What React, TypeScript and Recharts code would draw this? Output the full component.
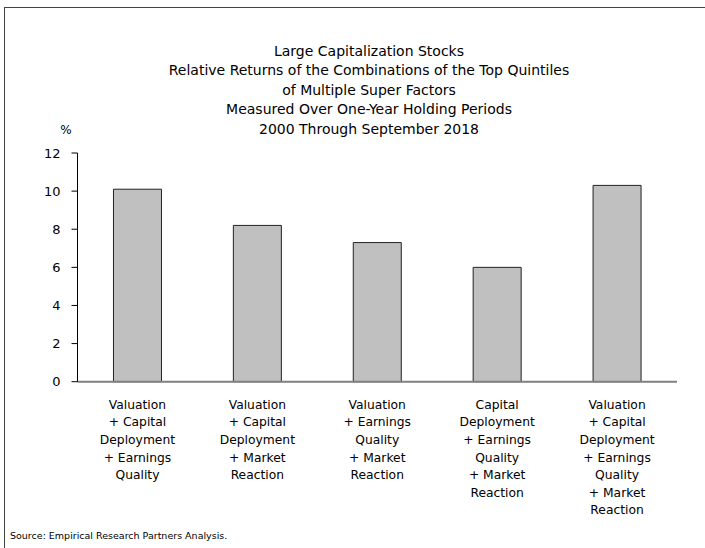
import React from "react";
import { BarChart, Bar, XAxis, YAxis } from "recharts";

const categories: string[] = [
  "Valuation\n+ Capital\nDeployment\n+ Earnings\nQuality",
  "Valuation\n+ Capital\nDeployment\n+ Market\nReaction",
  "Valuation\n+ Earnings\nQuality\n+ Market\nReaction",
  "Capital\nDeployment\n+ Earnings\nQuality\n+ Market\nReaction",
  "Valuation\n+ Capital\nDeployment\n+ Earnings\nQuality\n+ Market\nReaction",
];
const relativeReturns: number[] = [10.1, 8.2, 7.3, 6.0, 10.3];
const yTicks: number[] = [0, 2, 4, 6, 8, 10, 12];
const titleLines: string[] = [
  "Large Capitalization Stocks",
  "Relative Returns of the Combinations of the Top Quintiles",
  "of Multiple Super Factors",
  "Measured Over One-Year Holding Periods",
  "2000 Through September 2018",
];
const unitLabel = "%";
const sourceNote = "Source: Empirical Research Partners Analysis.";

const data = categories.map((c, i) => ({ name: c, value: relativeReturns[i] }));

const FONT = "'DejaVu Sans', Verdana, sans-serif";

const CategoryTick = (props: any) => {
  const { x, y, payload } = props;
  const lines = String(payload.value).split("\n");
  return (
    <text x={x} y={y} textAnchor="middle" fontFamily={FONT} fontSize={12.3} fill="#000">
      {lines.map((l, i) => (
        <tspan key={i} x={x} y={y + 19 + i * 17.6}>
          {l}
        </tspan>
      ))}
    </text>
  );
};

export default function App() {
  return (
    <div
      style={{
        position: "absolute",
        left: 0,
        top: 0,
        width: 705,
        height: 548,
        background: "#fff",
        overflow: "hidden",
      }}
    >
      <div
        style={{
          position: "absolute",
          left: 4,
          top: 7,
          width: 800,
          height: 700,
          borderTop: "1.5px solid #444",
          borderLeft: "1.5px solid #444",
        }}
      />
      <div
        style={{
          position: "absolute",
          left: 69,
          top: 41.75,
          width: 600,
          textAlign: "center",
          fontFamily: FONT,
          fontSize: 14,
          lineHeight: "19.5px",
          color: "#000",
        }}
      >
        {titleLines.map((t, i) => (
          <div key={i}>{t}</div>
        ))}
      </div>
      <div
        style={{
          position: "absolute",
          left: 56,
          top: 121,
          width: 20,
          textAlign: "center",
          fontFamily: FONT,
          fontSize: 12,
          lineHeight: "19px",
        }}
      >
        {unitLabel}
      </div>
      <div
        style={{
          position: "absolute",
          left: 10,
          top: 529,
          fontFamily: FONT,
          fontSize: 9.5,
          lineHeight: "14px",
          whiteSpace: "nowrap",
        }}
      >
        {sourceNote}
      </div>
      <div style={{ position: "absolute", left: 0, top: 0 }}>
        <BarChart
          width={705}
          height={548}
          data={data}
          margin={{ top: 153, right: 28, bottom: 156.3, left: 7.5 }}
          barCategoryGap="30%"
        >
          <XAxis
            dataKey="name"
            tick={<CategoryTick />}
            tickLine={false}
            axisLine={{ stroke: "#808080", strokeWidth: 2 }}
            interval={0}
            height={10}
          />
          <YAxis
            domain={[0, 12]}
            ticks={yTicks}
            width={70}
            tickSize={6}
            tickMargin={11}
            axisLine={{ stroke: "#000", strokeWidth: 1 }}
            tickLine={{ stroke: "#000" }}
            tick={{ fill: "#000", fontSize: 13, fontFamily: FONT }}
            allowDecimals={false}
          />
          <Bar
            dataKey="value"
            fill="#c0c0c0"
            stroke="#222"
            strokeWidth={1}
            isAnimationActive={false}
          />
        </BarChart>
      </div>
    </div>
  );
}
